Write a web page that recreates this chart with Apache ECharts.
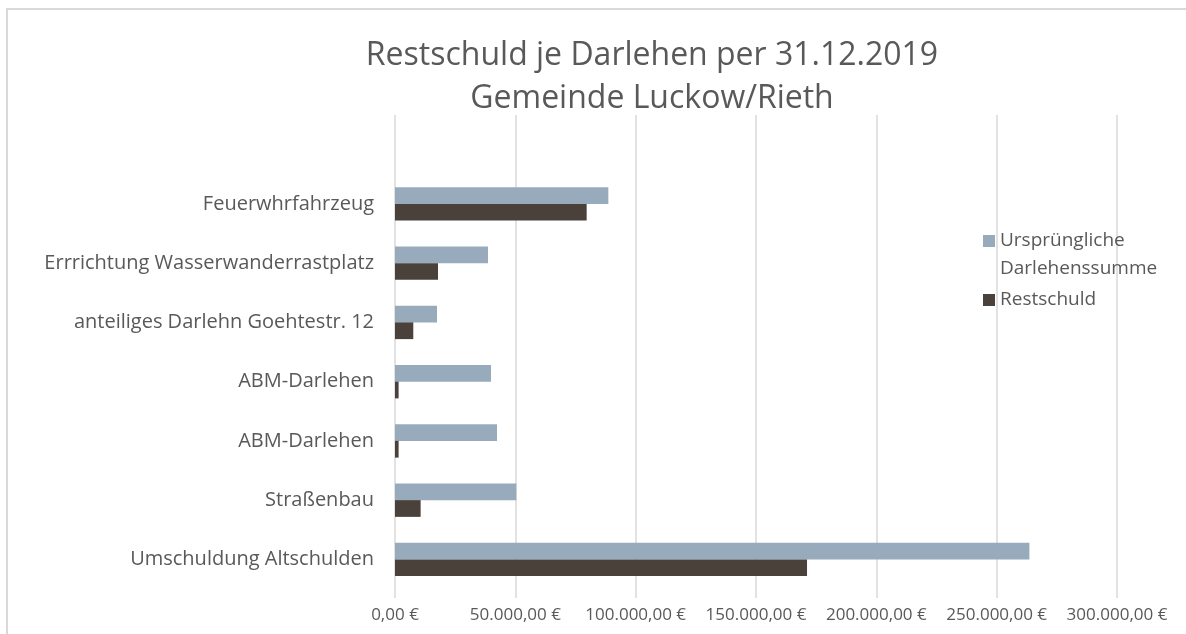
<!DOCTYPE html>
<html>
<head>
<meta charset="utf-8">
<script src="https://cdn.jsdelivr.net/npm/echarts@6/dist/echarts.min.js"></script>
<style>
  html, body { margin: 0; padding: 0; background: #fff; }
  #chart { width: 1186px; height: 634px; }
</style>
</head>
<body>
<div id="chart"></div>
<script>
// Kategorien von unten nach oben (leere Zeile oben wie im Original)
var categories = ['Umschuldung Altschulden', 'Straßenbau', 'ABM-Darlehen', 'ABM-Darlehen',
    'anteiliges Darlehn Goehtestr. 12', 'Errrichtung Wasserwanderrastplatz', 'Feuerwhrfahrzeug', ''];
var ursprSumme = [263600, 50400, 42400, 39900, 17450, 38650, 88650, null];
var restschuld = [171200, 10650, 1500, 1500, 7600, 17870, 79640, null];
var xTicks = { min: 0, max: 300000, interval: 50000 };

var txt = '#595959';
var fontFam = 'Open Sans';

//Zahl im deutschen Format
function euro(v){
    var s = Math.round(v).toString().replace(/\B(?=(\d{3})+(?!\d))/g, '.');
    return s + ',00 €';
}

var chart = echarts.init(document.getElementById('chart'));
chart.setOption({
    animation: false,
    title: {
        text: 'Restschuld je Darlehen per 31.12.2019\nGemeinde Luckow/Rieth',
        left: 652,
        top: 34,
        textAlign: 'center',
        padding: 0,
        textStyle: { color: txt, fontFamily: fontFam, fontSize: 32, fontWeight: 'normal', lineHeight: 43 }
    },
    legend: [{
        data: ['Ursprüngliche Darlehenssumme'],
        orient: 'vertical',
        left: 983,
        top: 199,
        padding: 0,
        itemWidth: 12,
        itemHeight: 12,
        icon: 'rect',
        //Leerzeile oben, damit das Symbol neben der ersten Zeile steht
        formatter: function(n){ return '\n' + n.replace(' ', '\n'); },
        textStyle: { color: txt, fontFamily: fontFam, fontSize: 19, lineHeight: 28 }
    }, {
        data: ['Restschuld'],
        orient: 'vertical',
        left: 983,
        top: 287,
        padding: 0,
        itemWidth: 12,
        itemHeight: 12,
        icon: 'rect',
        textStyle: { color: txt, fontFamily: fontFam, fontSize: 19, lineHeight: 26 }
    }],
    grid: { left: 395, right: 69, top: 115, bottom: 45, containLabel: false },
    xAxis: {
        type: 'value',
        min: xTicks.min,
        max: xTicks.max,
        interval: xTicks.interval,
        axisLine: { show: false },
        axisTick: { show: true, length: 9, lineStyle: { color: '#d9d9d9', width: 1.5 } },
        splitLine: { lineStyle: { color: '#d9d9d9', width: 1.5 } },
        axisLabel: { color: txt, fontFamily: fontFam, fontSize: 17, margin: 18, formatter: euro }
    },
    yAxis: {
        type: 'category',
        data: categories,
        axisLine: { show: false },
        axisTick: { show: false },
        axisLabel: { color: txt, fontFamily: fontFam, fontSize: 20, margin: 21 }
    },
    series: [{
        name: 'Ursprüngliche Darlehenssumme',
        type: 'bar',
        data: ursprSumme,
        barGap: '0%',
        barCategoryGap: '43.5%',
        itemStyle: { color: '#98abbd' }
    }, {
        name: 'Restschuld',
        type: 'bar',
        data: restschuld,
        barGap: '0%',
        barCategoryGap: '43.5%',
        itemStyle: { color: '#4a413b' }
    }],
    graphic: [{
        type: 'rect',
        shape: { x: 7, y: 9, width: 1300, height: 1000 },
        style: { fill: 'none', stroke: '#d9d9d9', lineWidth: 2 },
        silent: true
    }]
});
</script>
</body>
</html>
